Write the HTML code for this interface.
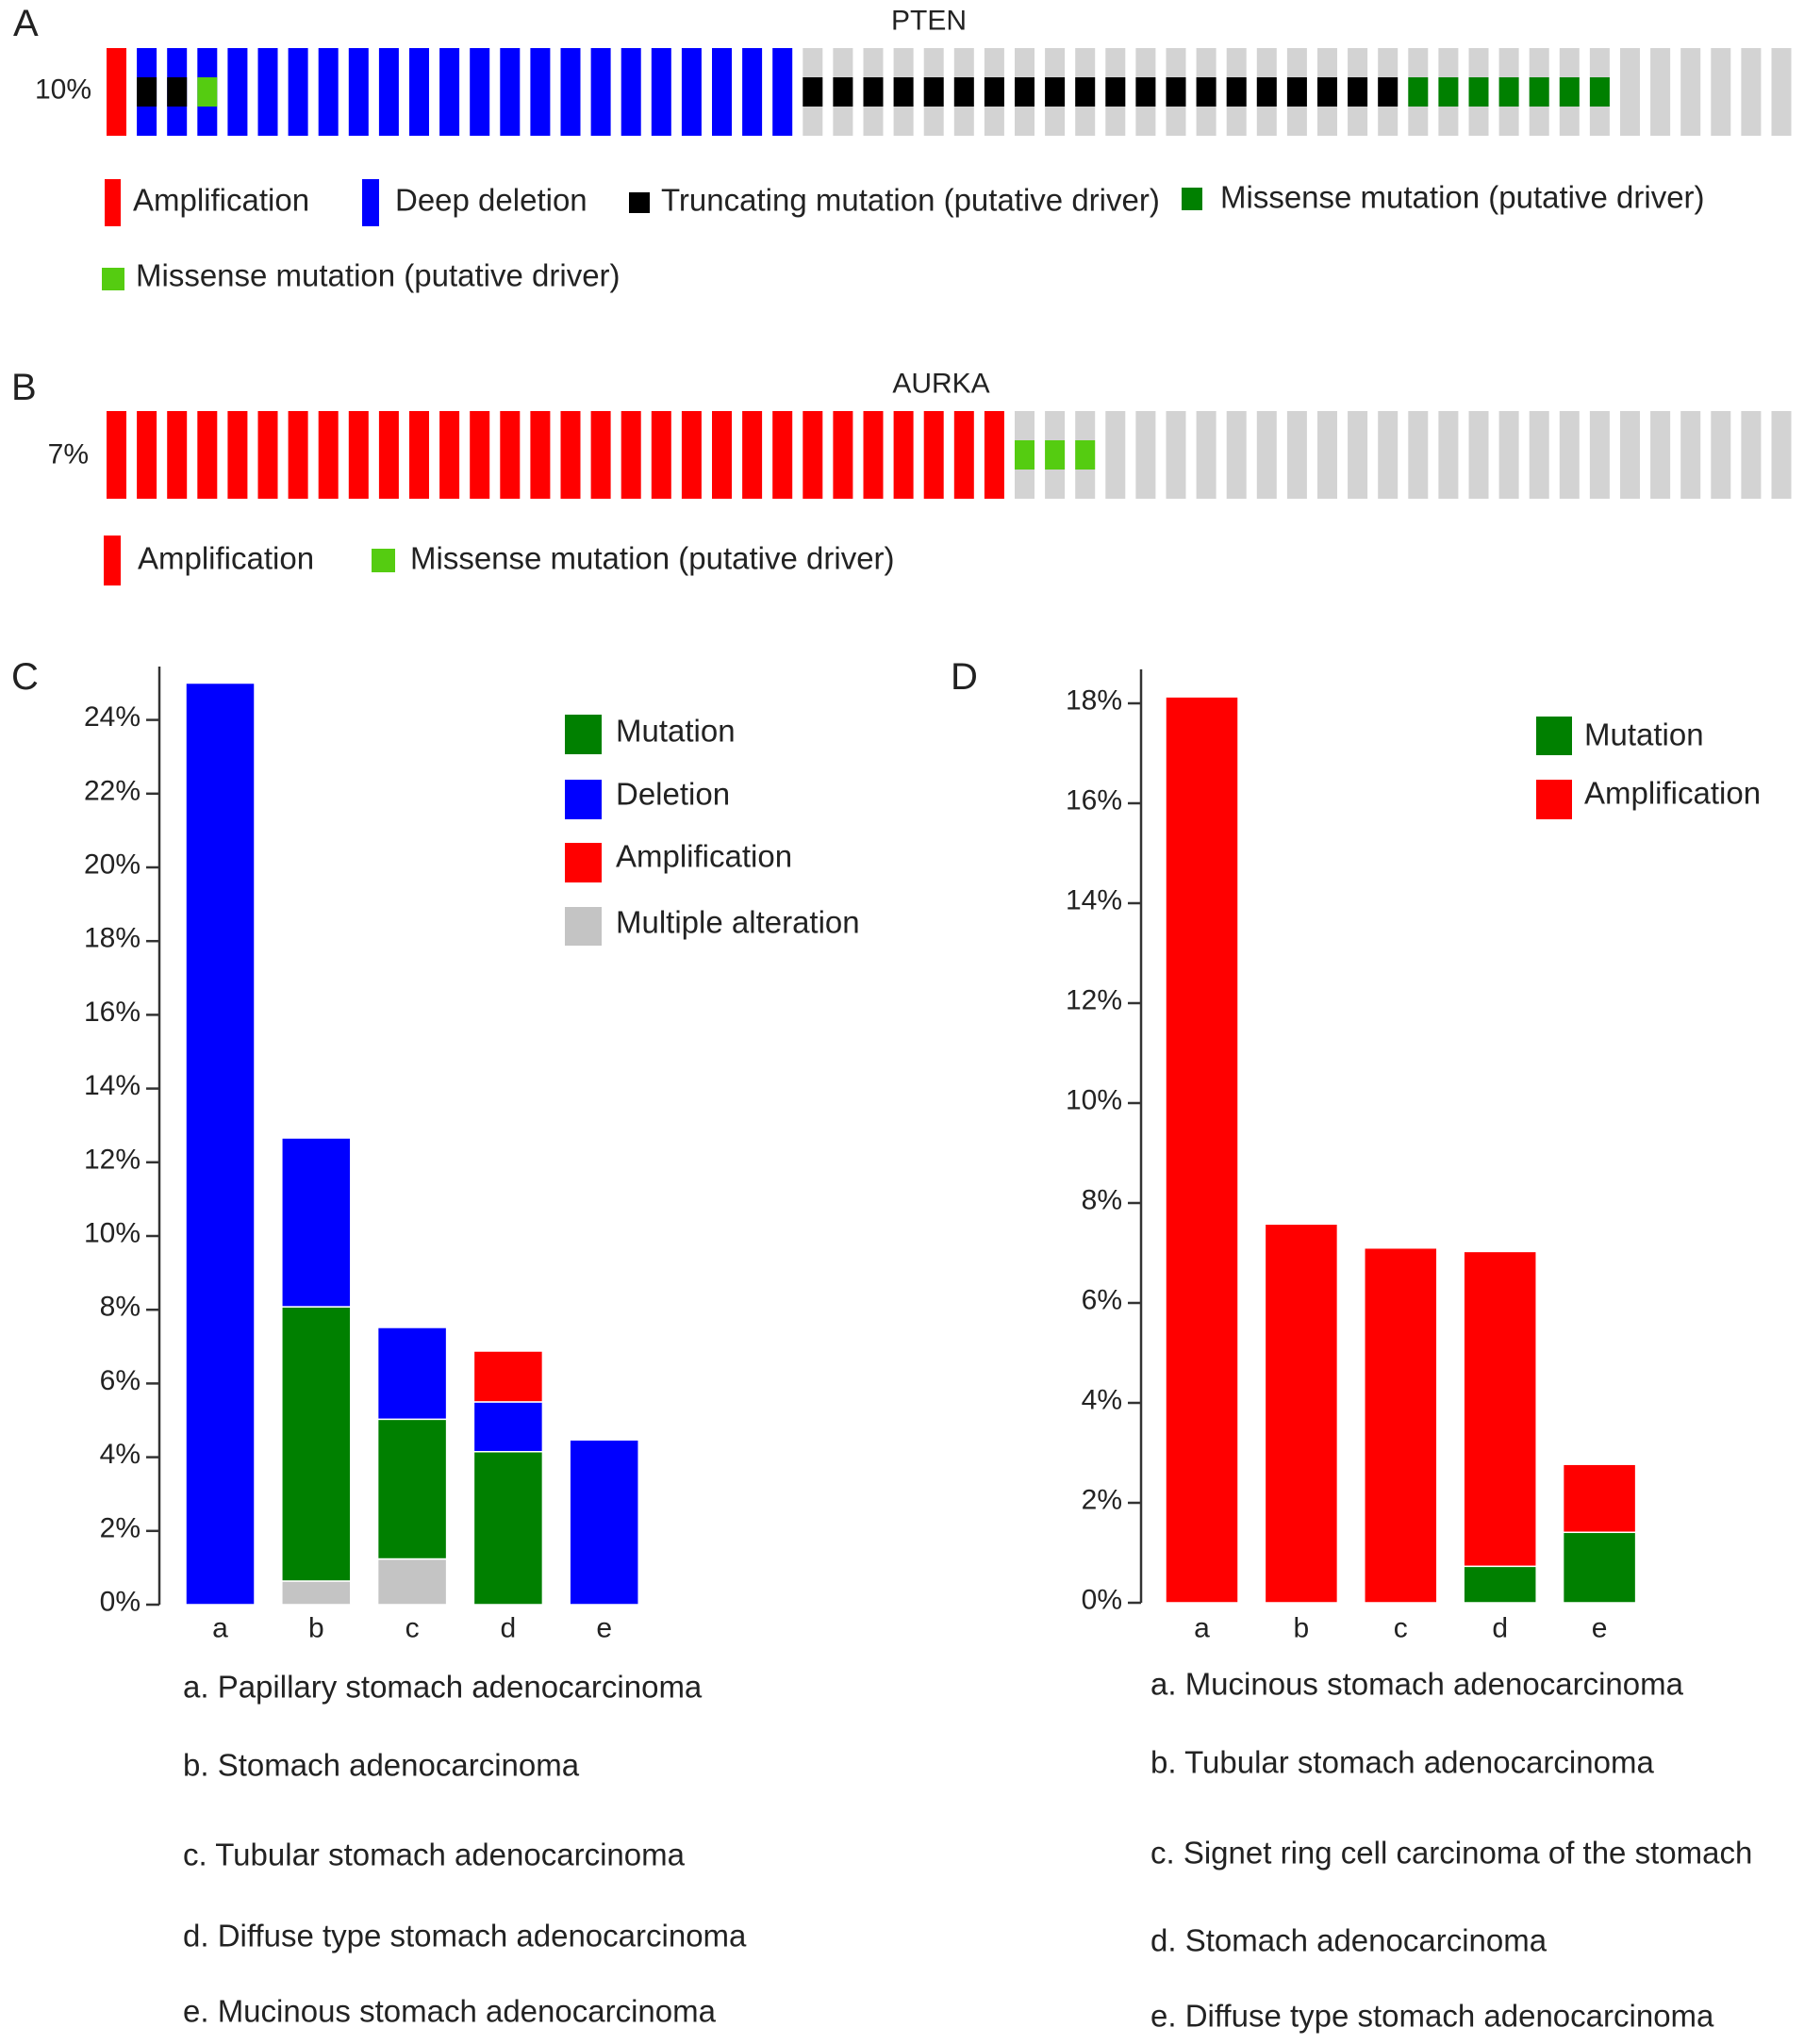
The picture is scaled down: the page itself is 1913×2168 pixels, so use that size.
<!DOCTYPE html>
<html><head><meta charset="utf-8"><style>
body{margin:0;background:#fff;}
svg{display:block;font-family:"Liberation Sans",sans-serif;}
</style></head><body>
<svg id="fig" width="1913" height="2168" viewBox="0 0 1913 2168"></svg>
<script>
// ---- Panel A/B oncoprint data ----
const ptenCols = ['amp'].concat(Array(22).fill('del')).concat(Array(33).fill('none'));
const ptenMut = ['', 'trunc', 'trunc', 'miss2'].concat(Array(19).fill('')).concat(Array(20).fill('trunc')).concat(Array(7).fill('miss1')).concat(Array(6).fill(''));
const aurkaCols = Array(30).fill('amp').concat(Array(26).fill('none'));
const aurkaMut = Array(30).fill('').concat(['miss2','miss2','miss2']).concat(Array(23).fill(''));
// ---- Panel C data ----
const cCats = ['a','b','c','d','e'];
const cMultiple = [0,0.64,1.24,0,0];
const cMutation = [0,7.44,3.79,4.15,0];
const cDeletion = [25,4.58,2.49,1.35,4.47];
const cAmplification = [0,0,0,1.38,0];
const cTicks = [0,2,4,6,8,10,12,14,16,18,20,22,24];
// ---- Panel D data ----
const dCats = ['a','b','c','d','e'];
const dMutation = [0,0,0,0.73,1.41];
const dAmplification = [18.13,7.58,7.1,6.3,1.36];
const dTicks = [0,2,4,6,8,10,12,14,16,18];

const NS='http://www.w3.org/2000/svg';
const svg=document.getElementById('fig');
function el(tag,attrs,parent){const e=document.createElementNS(NS,tag);for(const k in attrs)e.setAttribute(k,attrs[k]);(parent||svg).appendChild(e);return e;}
function txt(x,y,s,size,anchor,parent){const t=el('text',{x:x,y:y-3,'font-size':size,'text-anchor':anchor||'start','dominant-baseline':'central',fill:'#222'},parent);t.textContent=s;return t;}
const COL={amp:'#ff0000',del:'#0000ff',none:'#d3d3d3',trunc:'#000000',miss1:'#008000',miss2:'#55cc11',mut:'#008000',mult:'#c4c4c4'};

function onco(cols,muts,top,name){
  const g=el('g',{});
  
  
  const x0=113,pitch=32.1,w=21,h=93;
  cols.forEach((c,i)=>{
    const r=el('rect',{x:x0+i*pitch,y:top,width:w,height:h,fill:COL[c]},g);
    
    
    if(muts[i]){
      const m=el('rect',{x:x0+i*pitch,y:top+31,width:w,height:31,fill:COL[muts[i]]},g);
      
      
    }
  });
}
// Panel A
txt(14,28,'A',40);
txt(985,25,'PTEN',30,'middle');
txt(97,98,'10%',30,'end');
onco(ptenCols,ptenMut,51,'pten-oncoprint');
function leg(items){items.forEach(it=>{const g=el('g',{});el('rect',{x:it.x,y:it.y,width:it.w,height:it.h,fill:it.c},g);txt(it.tx,it.ty,it.t,33,'start',g);});}
leg([
 {n:'legend-amplification',x:111,y:190,w:17,h:50,c:COL.amp,tx:141,ty:215,t:'Amplification'},
 {n:'legend-deep-deletion',x:384,y:190,w:18,h:50,c:COL.del,tx:419,ty:215,t:'Deep deletion'},
 {n:'legend-truncating',x:667,y:204,w:22,h:22,c:COL.trunc,tx:701,ty:215,t:'Truncating mutation (putative driver)'},
 {n:'legend-missense-dark',x:1253,y:199,w:22,h:24,c:COL.miss1,tx:1294,ty:212,t:'Missense mutation (putative driver)'},
 {n:'legend-missense-light',x:108,y:284,w:24,h:24,c:COL.miss2,tx:144,ty:295,t:'Missense mutation (putative driver)'}
]);
// Panel B
txt(12,414,'B',40);
txt(998,410,'AURKA',30,'middle');
txt(94,485,'7%',30,'end');
onco(aurkaCols,aurkaMut,436,'aurka-oncoprint');
leg([
 {n:'legend-b-amplification',x:110,y:568,w:18,h:53,c:COL.amp,tx:146,ty:595,t:'Amplification'},
 {n:'legend-b-missense',x:394,y:582,w:25,h:25,c:COL.miss2,tx:435,ty:595,t:'Missense mutation (putative driver)'}
]);

function barChart(o){
  const g=el('g',{});
  
  
  const y=v=>o.y0-v*o.perUnit;
  el('line',{x1:o.ax,y1:o.axTop,x2:o.ax,y2:o.y0,stroke:'#333','stroke-width':2.5},g);
  o.ticks.forEach(t=>{
    el('line',{x1:o.ax-14,y1:y(t),x2:o.ax,y2:y(t),stroke:'#333','stroke-width':2.5},g);
    const l=txt(o.ax-20,y(t),t+'%',30,'end',g);
    
  });
  o.cats.forEach((c,i)=>{
    const x=o.bx+i*o.pitch;
    let base=0;
    o.series.forEach(s=>{
      const v=s.vals[i];
      if(v>0){
        const r=el('rect',{x:x,y:y(base+v),width:o.bw,height:v*o.perUnit,fill:s.c,stroke:'#fff','stroke-width':1.5},g);
        
        
      }
      base+=v;
    });
    const l=txt(x+o.bw/2,1730,c,30,'middle',g);
    
  });
}
// Panel C
txt(12,721,'C',40);
barChart({name:'pten-bar-chart',ax:169,axTop:707,y0:1702,perUnit:39.1,ticks:cTicks,cats:cCats,bx:197,pitch:101.8,bw:73,
 series:[{n:'multiple',vals:cMultiple,c:COL.mult},{n:'mutation',vals:cMutation,c:COL.mut},{n:'deletion',vals:cDeletion,c:COL.del},{n:'amplification',vals:cAmplification,c:COL.amp}]});
leg([
 {n:'legend-c-mutation',x:599,y:758,w:39,h:42,c:COL.mut,tx:653,ty:778,t:'Mutation'},
 {n:'legend-c-deletion',x:599,y:827,w:39,h:42,c:COL.del,tx:653,ty:845,t:'Deletion'},
 {n:'legend-c-amplification',x:599,y:894,w:39,h:42,c:COL.amp,tx:653,ty:911,t:'Amplification'},
 {n:'legend-c-multiple',x:599,y:962,w:39,h:41,c:COL.mult,tx:653,ty:981,t:'Multiple alteration'}
]);
const cList=['a. Papillary stomach adenocarcinoma','b. Stomach adenocarcinoma','c. Tubular stomach adenocarcinoma','d. Diffuse type stomach adenocarcinoma','e. Mucinous stomach adenocarcinoma'];
const cListY=[1792,1875,1970,2056,2136];
cList.forEach((s,i)=>{const t=txt(194,cListY[i],s,33);});
// Panel D
txt(1008,721,'D',40);
barChart({name:'aurka-bar-chart',ax:1210,axTop:710,y0:1700,perUnit:53,ticks:dTicks,cats:dCats,bx:1236,pitch:105.4,bw:77,
 series:[{n:'mutation',vals:dMutation,c:COL.mut},{n:'amplification',vals:dAmplification,c:COL.amp}]});
leg([
 {n:'legend-d-mutation',x:1629,y:760,w:38,h:41,c:COL.mut,tx:1680,ty:782,t:'Mutation'},
 {n:'legend-d-amplification',x:1629,y:827,w:38,h:42,c:COL.amp,tx:1680,ty:844,t:'Amplification'}
]);
const dList=['a. Mucinous stomach adenocarcinoma','b. Tubular stomach adenocarcinoma','c. Signet ring cell carcinoma of the stomach','d. Stomach adenocarcinoma','e. Diffuse type stomach adenocarcinoma'];
const dListY=[1789,1872,1968,2061,2141];
dList.forEach((s,i)=>{const t=txt(1220,dListY[i],s,33);});
</script>
</body></html>
